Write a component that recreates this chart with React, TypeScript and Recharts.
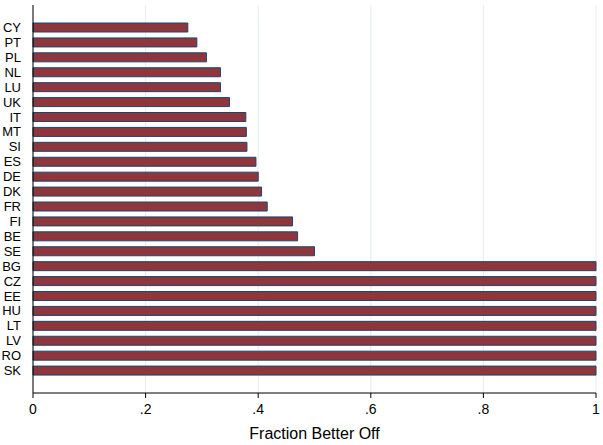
import { BarChart, Bar, XAxis, YAxis, CartesianGrid } from "recharts";

// countries top to bottom, share of households better off
const COUNTRIES = [
  "CY", "PT", "PL", "NL", "LU", "UK", "IT", "MT", "SI", "ES", "DE", "DK",
  "FR", "FI", "BE", "SE", "BG", "CZ", "EE", "HU", "LT", "LV", "RO", "SK",
];
const BETTER_OFF = [
  0.275, 0.291, 0.308, 0.333, 0.333, 0.349, 0.378, 0.379, 0.380, 0.396, 0.400, 0.406,
  0.416, 0.461, 0.470, 0.500, 1, 1, 1, 1, 1, 1, 1, 1,
];
const X_TICKS = [0, 0.2, 0.4, 0.6, 0.8, 1];

const data = COUNTRIES.map((c, i) => ({ country: c, value: BETTER_OFF[i] }));

const FONT = "'Liberation Sans', Arial, Helvetica, sans-serif";

function formatTick(v: number) {
  if (v === 0 || v === 1) return String(v);
  return String(v).replace(/^0/, "");
}

export default function App() {
  return (
    <div style={{ position: "fixed", left: 0, top: 0, width: 603, height: 445, background: "#fff" }}>
      <BarChart
        width={603}
        height={445}
        data={data}
        layout="vertical"
        margin={{ top: 5, right: 7, bottom: 0, left: 0 }}
        barSize={9}
        style={{ fontFamily: FONT }}
      >
        <CartesianGrid horizontal={false} stroke="#e4eef0" strokeWidth={1} />
        <XAxis
          type="number"
          domain={[0, 1]}
          ticks={X_TICKS}
          tickFormatter={formatTick}
          tick={{ fill: "#000", fontSize: 14 }}
          stroke="#000"
          tickSize={5}
          tickMargin={6}
          height={52}
          label={{ value: "Fraction Better Off", position: "insideBottom", offset: 6, fill: "#000", fontSize: 16 }}
        />
        <YAxis
          type="category"
          dataKey="country"
          width={33}
          interval={0}
          tick={{ fill: "#000", fontSize: 13 }}
          stroke="#000"
          tickLine={false}
          tickMargin={6}
          padding={{ top: 15, bottom: 15 }}
        />
        <Bar dataKey="value" fill="#8f353c" stroke="#1a476f" strokeWidth={1} isAnimationActive={false} />
      </BarChart>
    </div>
  );
}
